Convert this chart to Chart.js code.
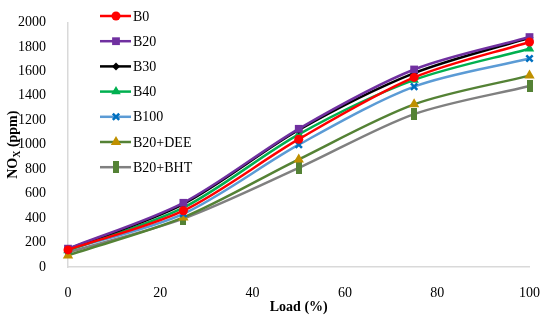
<!DOCTYPE html>
<html>
<head>
<meta charset="utf-8">
<script src="https://cdn.jsdelivr.net/npm/chart.js@4/dist/chart.umd.min.js"></script>
<style>
  html, body { margin: 0; padding: 0; background: #fff; }
  #wrap { width: 550px; height: 322px; }
</style>
</head>
<body>
<div id="wrap"><canvas id="noxChart" width="550" height="322"></canvas></div>
<script>
// data
const loads = [0, 25, 50, 75, 100];
const b0 = [140, 460, 1045, 1550, 1840];
const b20 = [150, 525, 1130, 1615, 1880];
const b30 = [145, 515, 1120, 1585, 1875];
const b40 = [135, 485, 1085, 1530, 1785];
const b100 = [140, 435, 1000, 1475, 1705];
const b20dee = [95, 405, 880, 1330, 1565];
const b20bht = [120, 395, 810, 1250, 1480];
const seriesNames = ['B0', 'B20', 'B30', 'B40', 'B100', 'B20+DEE', 'B20+BHT'];
const xTicks = [0, 20, 40, 60, 80, 100];
const yMax = 2000, yStep = 200;

const FONT = "'Liberation Serif', 'Times New Roman', serif";

// little bar marker for B20+BHT
function barMarker(color, w, h) {
    const c = document.createElement('canvas');
    c.width = w; c.height = h;
    const g = c.getContext('2d');
    g.fillStyle = color;
    g.fillRect(0, 0, w, h);
    return c;
}

function pts(vals) {
    return loads.map((x, i) => ({ x: x, y: vals[i] }));
}

const styles = [
    { line: '#ff0000', mark: '#ff0000', shape: 'circle', r: 4.5 },
    { line: '#7030a0', mark: '#7030a0', shape: 'rect', r: 5.5 },
    { line: '#000000', mark: '#000000', shape: 'rectRot', r: 4 },
    { line: '#00b050', mark: '#00b050', shape: 'triangle', r: 5.5 },
    { line: '#5b9bd5', mark: '#0070c0', shape: 'crossRot', r: 4.5 },
    { line: '#548235', mark: '#bf9000', shape: 'triangle', r: 6 },
    { line: '#808080', mark: '#548235', shape: barMarker('#548235', 6, 12), r: 6 }
];
const allValues = [b0, b20, b30, b40, b100, b20dee, b20bht];

const datasets = allValues.map((vals, i) => ({
    label: seriesNames[i],
    data: pts(vals),
    borderColor: styles[i].line,
    backgroundColor: styles[i].mark,
    pointBackgroundColor: styles[i].mark,
    pointBorderColor: styles[i].mark,
    pointBorderWidth: styles[i].shape === 'crossRot' ? 2.5 : 0,
    pointStyle: styles[i].shape,
    pointRadius: styles[i].r,
    borderWidth: 2.5,
    tension: 0.3,
    clip: false
}));

// legend drawn inside the plot, top-left, line + marker
const innerLegend = {
    id: 'innerLegend',
    afterDraw(chart) {
        const ctx = chart.ctx;
        ctx.save();
        ctx.font = '14px ' + FONT;
        ctx.textBaseline = 'middle';
        ctx.textAlign = 'left';
        styles.forEach((s, i) => {
            const y = 16 + i * 25.2;
            ctx.strokeStyle = s.line;
            ctx.lineWidth = 2.5;
            ctx.beginPath();
            ctx.moveTo(100, y);
            ctx.lineTo(131, y);
            ctx.stroke();
            ctx.fillStyle = s.mark;
            ctx.strokeStyle = s.mark;
            ctx.lineWidth = s.shape === 'crossRot' ? 2.5 : 0;
            Chart.helpers.drawPoint(ctx, {
                pointStyle: s.shape, radius: s.r, rotation: 0,
                borderWidth: s.shape === 'crossRot' ? 2.5 : 0
            }, 116, y);
            ctx.fillStyle = '#000';
            ctx.fillText(seriesNames[i], 133, y + 1);
        });
        ctx.restore();
    }
};

// y title with subscript x
const yTitle = {
    id: 'yTitle',
    afterDraw(chart) {
        const ctx = chart.ctx;
        const a = chart.chartArea;
        ctx.save();
        ctx.translate(13, (a.top + a.bottom) / 2);
        ctx.rotate(-Math.PI / 2);
        ctx.fillStyle = '#000';
        ctx.textBaseline = 'middle';
        const big = 'bold 14px ' + FONT, small = 'bold 10px ' + FONT;
        ctx.font = big;
        const w1 = ctx.measureText('NO').width;
        const w3 = ctx.measureText(' (ppm)').width;
        ctx.font = small;
        const w2 = ctx.measureText('X').width;
        let x = -(w1 + w2 + w3) / 2;
        ctx.font = big;
        ctx.fillText('NO', x, 0);
        x += w1;
        ctx.font = small;
        ctx.fillText('X', x, 4);
        x += w2;
        ctx.font = big;
        ctx.fillText(' (ppm)', x, 0);
        ctx.restore();
    }
};

new Chart(document.getElementById('noxChart').getContext('2d'), {
    type: 'line',
    data: { datasets: datasets },
    options: {
        responsive: false,
        animation: false,
        layout: { padding: { top: 15, right: 20, left: 0, bottom: 0 } },
        plugins: {
            legend: { display: false },
            tooltip: { enabled: false }
        },
        scales: {
            x: {
                type: 'linear',
                min: 0,
                max: 100,
                afterBuildTicks: (s) => { s.ticks = xTicks.map(v => ({ value: v })); },
                afterFit: (s) => { s.height = 55; },
                grid: { display: false },
                border: { display: true, color: '#d9d9d9', width: 1.5 },
                ticks: { color: '#000', font: { family: FONT, size: 14 }, padding: 10 },
                title: {
                    display: true,
                    text: 'Load (%)',
                    color: '#000',
                    font: { family: FONT, size: 14, weight: 'bold' },
                    padding: { top: 0, bottom: 6 }
                }
            },
            y: {
                min: 0,
                max: yMax,
                ticks: {
                    stepSize: yStep, color: '#000', font: { family: FONT, size: 14 }, padding: 14,
                    callback: (v) => String(v)
                },
                afterFit: (s) => { s.width = 68; },
                grid: { display: false },
                border: { display: true, color: '#d9d9d9', width: 1.5 }
            }
        }
    },
    plugins: [innerLegend, yTitle]
});
</script>
</body>
</html>
